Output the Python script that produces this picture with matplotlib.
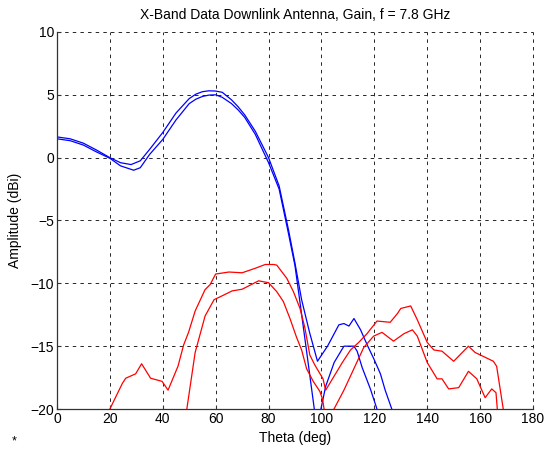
import numpy as np
import matplotlib
matplotlib.use("Agg")
import matplotlib.pyplot as plt

plt.rcParams['font.family'] = ['Liberation Sans', 'DejaVu Sans']
plt.rcParams['lines.scale_dashes'] = False

# blue curves (co-pol gain)
blue1_theta = [0, 5, 10, 15, 20, 24, 28, 31.5, 35, 40, 45, 50, 52.5, 55, 57.5, 60, 62.5, 66,
               68.5, 71, 75, 80, 84, 87.5, 90, 92.5, 95.5, 98.5, 102.3, 106.6, 108.5, 110.4,
               112.3, 114.8, 117.3, 119.8, 122.3, 124.1, 126.6, 128]
blue1_gain = [1.65, 1.5, 1.15, 0.6, 0.0, -0.4, -0.55, -0.25, 0.65, 2.0, 3.55, 4.7, 5.05, 5.25,
              5.32, 5.3, 5.2, 4.6, 4.05, 3.4, 2.1, 0.0, -2.25, -5.7, -8.4, -11.3, -13.9, -16.2,
              -15.0, -13.3, -13.2, -13.4, -12.8, -13.7, -14.9, -16.0, -17.2, -18.5, -20.0, -21.0]

blue2_theta = [0, 5, 10, 15, 20, 24, 29, 31.5, 35, 40, 45, 50, 52.5, 55, 57.5, 60, 62.5, 66,
               68.5, 71, 75, 80, 84, 87.5, 90, 91.3, 94, 97.3, 98.5, 99.8, 101.6, 104.8,
               108.5, 112.3, 113.5, 115.4, 118.5, 121, 122]
blue2_gain = [1.5, 1.35, 1.0, 0.45, -0.05, -0.65, -1.0, -0.8, 0.25, 1.45, 3.0, 4.3, 4.65, 4.87,
              4.98, 5.0, 4.8, 4.3, 3.8, 3.2, 1.85, -0.4, -2.5, -6.0, -8.6, -10.6, -14.8, -20.0,
              -20.8, -20.0, -18.2, -16.3, -15.0, -15.0, -15.4, -16.7, -18.4, -20.0, -20.6]

# red curves (cross-pol gain)
red1_theta = [18, 20, 24.75, 26, 29.75, 32, 35.4, 39.75, 42, 45.75, 47.9, 49.75, 52.25, 56,
              57.9, 60, 65, 70, 75, 78.75, 81.9, 83.1, 86.9, 89.4, 91.9, 93.75, 95.6, 97.5,
              100.6, 101.6, 104.75, 107.9, 111, 114.1, 117.25, 121, 126, 128.75, 130,
              133.75, 136.25, 140, 142.5, 145.6, 150, 155.6, 158.1, 165, 166.25, 168.75, 169.5]
red1_gain = [-21.0, -20.0, -17.95, -17.55, -17.2, -16.4, -17.55, -17.8, -18.5, -16.6, -14.9,
             -13.9, -12.2, -10.5, -10.1, -9.26, -9.1, -9.16, -8.8, -8.5, -8.5, -8.55, -9.6,
             -10.66, -12.0, -13.55, -15.7, -16.5, -17.6, -18.5, -17.4, -16.3, -15.3, -14.7,
             -14.0, -13.0, -13.1, -12.4, -12.0, -11.8, -12.9, -14.7, -15.3, -15.4, -16.2,
             -15.0, -15.5, -16.2, -16.6, -20.0, -21.0]

red2_theta = [48.5, 49.1, 52.25, 56, 59.4, 61.9, 66.25, 70, 76.25, 80, 83.1, 85.6, 88.1,
              90.6, 92.5, 94.4, 96.9, 99.4, 100.4, 101, 103, 104.75, 108.5, 112.25, 116,
              119.75, 122.9, 127.25, 131.25, 134.4, 136.25, 140, 143.75, 145.6, 148.1,
              151.9, 155.6, 158.75, 161.9, 164.4, 166, 166.5, 167]
red2_gain = [-21.0, -20.0, -15.5, -12.6, -11.3, -11.05, -10.6, -10.47, -9.8, -9.95, -10.66,
             -11.45, -12.8, -14.3, -15.3, -16.8, -17.8, -18.6, -19.2, -20.0, -21.0, -20.0,
             -18.5, -16.8, -15.1, -14.2, -13.9, -14.6, -14.0, -13.7, -14.2, -16.3, -17.6,
             -17.6, -18.4, -18.3, -17.0, -17.6, -19.1, -18.4, -18.7, -20.0, -21.0]

x_ticks = np.arange(0, 181, 20)
y_ticks = np.arange(-20, 11, 5)

fig = plt.figure(figsize=(5.5, 4.53), dpi=100)
ax = fig.add_axes([0.1036, 0.0971, 0.8655, 0.8323])

ax.plot(blue1_theta, blue1_gain, color='blue', lw=0.9)
ax.plot(blue2_theta, blue2_gain, color='blue', lw=0.9)
ax.plot(red1_theta, red1_gain, color='red', lw=0.9)
ax.plot(red2_theta, red2_gain, color='red', lw=0.9)

ax.set_xlim(0, 180)
ax.set_ylim(-20, 10)
ax.set_xticks(x_ticks)
ax.set_yticks(y_ticks)
ax.grid(True, color='0.15', linestyle=(0, (2.5, 3)), linewidth=0.7)
for gl in ax.get_xgridlines() + ax.get_ygridlines():
    gl.set_clip_on(False)
ax.set_axisbelow(True)

for side in ['top', 'right']:
    ax.spines[side].set_visible(False)
for side in ['left', 'bottom']:
    ax.spines[side].set_color('0.2')
    ax.spines[side].set_linewidth(0.9)
ax.tick_params(direction='in', length=3, labelsize=10, colors='0.2', labelcolor='black', pad=2)

ax.set_title("X-Band Data Downlink Antenna, Gain, f = 7.8 GHz", fontsize=10, pad=9)
ax.set_xlabel("Theta (deg)", fontsize=10, labelpad=4)
ax.set_ylabel("Amplitude (dBi)", fontsize=10, labelpad=6)
fig.text(0.022, 0.02, "*", fontsize=9)

fig.savefig("out.png", dpi=100)
